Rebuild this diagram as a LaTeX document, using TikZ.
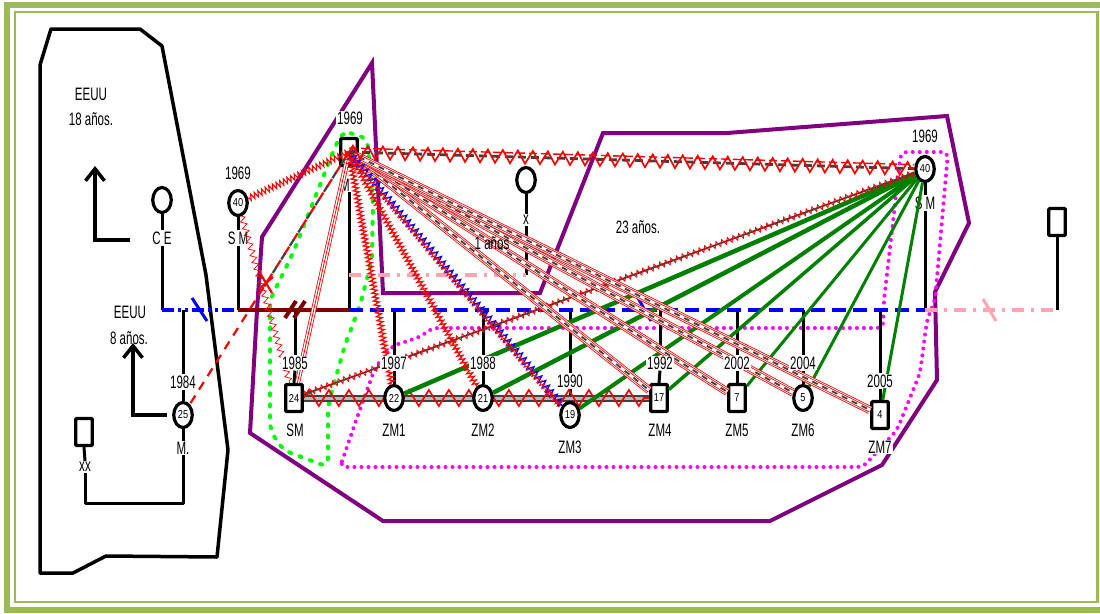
\documentclass[tikz,border=0pt]{standalone}
\usepackage{fontspec}
\newfontfamily\nar{Liberation Sans}[FakeStretch=0.64]
\newfontfamily\narn{Liberation Sans}[FakeStretch=0.8]
\usetikzlibrary{shapes.geometric,decorations.pathmorphing,arrows.meta,calc}
\pgfdeclarelayer{bg}
\pgfdeclarelayer{rel}
\pgfdeclarelayer{lab}
\pgfsetlayers{bg,main,rel,lab}
\definecolor{frameg}{HTML}{9BBB59}
\definecolor{purp}{HTML}{800080}
\definecolor{maroonc}{HTML}{800000}
\definecolor{pinkl}{HTML}{FFA3B5}
\definecolor{grn}{HTML}{008000}
\definecolor{limec}{HTML}{00FF00}
\definecolor{magc}{HTML}{FF00FF}
\definecolor{dgray}{HTML}{404040}
\tikzset{
  txt/.style={font=\nar\fontsize{18}{18}\selectfont, inner sep=1pt},
  yr/.style={txt, fill=white},
  nm/.style={txt, fill=white},
  num/.style={font=\narn\fontsize{11.5}{11.5}\selectfont},
  sq/.style={draw, line width=3.2pt, rectangle, rounded corners=1pt, minimum width=16.5pt, minimum height=27pt, fill=white, inner sep=0pt, num},
  ci/.style={draw, line width=3.2pt, ellipse, minimum width=18.5pt, minimum height=25pt, fill=white, inner sep=0pt, num},
  kin/.style={black, line width=3pt},
  arr/.style={black, line width=3.5pt, -{Straight Barb[length=12pt,width=19pt]}},
  zzfine/.style={red, line width=1.1pt, decorate, decoration={zigzag, amplitude=3pt, segment length=4pt}},
  tripl/.style={red, line width=0.8pt, double=white, double distance=3.6pt},
  bandr/.style={red, line width=0.8pt, double=white, double distance=6.5pt},
  bandr2/.style={red, line width=0.8pt, double=white, double distance=3.2pt},
  bandg/.style={dgray, line width=1.8pt, dash pattern=on 6pt off 5pt},
  grel/.style={grn, line width=3.5pt},
}
\begin{document}
\begin{tikzpicture}[x=1pt,y=-1pt]
\useasboundingbox (0,0) rectangle (1100,613);

% ---------- persons ----------
\node[ci] (CE)  at (162,200) {};
\node[ci] (SMl) at (238,203) {40};
\node[ci] (M25) at (183,415) {25};
\node[sq] (XX)  at (84,432) {};
\node[sq] (M)   at (349,152) {};
\node[ci] (X)   at (526,180) {};
\node[ci] (SMr) at (925,169) {40};
\node[sq] (R)   at (1057,222) {};
\node[sq] (SM)  at (294,398) {24};
\node[ci] (ZM1) at (394,398) {22};
\node[ci] (ZM2) at (483,398) {21};
\node[ci] (ZM3) at (570,415) {19};
\node[sq] (ZM4) at (659,398) {17};
\node[sq] (ZM5) at (737,398) {7};
\node[ci] (ZM6) at (803,398) {5};
\node[sq] (ZM7) at (880,415) {4};

% ---------- name labels ----------
\node[nm] (lCE)  at (162,238) {C E};
\node[nm] (lSMl) at (238,238) {S M};
\node[nm] (lM25) at (183,448) {M.};
\node[nm] (lXX)  at (85,467) {xx};
\node[nm] (lM)   at (345,185) {M};
\node[nm] (lX)   at (526,220) {x};
\node[nm] (lSMr) at (925,203) {S M};
\node[nm] (lSM)  at (295,430) {SM};
\node[nm] (lZM1) at (394,430) {ZM1};
\node[nm] (lZM2) at (483,430) {ZM2};
\node[nm] (lZM3) at (570,447) {ZM3};
\node[nm] (lZM4) at (660,430) {ZM4};
\node[nm] (lZM5) at (737,430) {ZM5};
\node[nm] (lZM6) at (803,430) {ZM6};
\node[nm] (lZM7) at (880,447) {ZM7};

% ---------- free texts ----------
\node[txt] (t1) at (91,94)  {EEUU};
\node[txt] (t2) at (91,119) {18 años.};
\node[txt] (t3) at (130,312) {EEUU};
\node[txt] (t4) at (129,338) {8 años.};
\node[txt] (t6) at (638,227) {23 años.};

% ---------- year labels ----------
\begin{pgfonlayer}{lab}
\node[txt] (t5) at (492,243) {1 años};
\node[yr] (ySMl) at (238,173) {1969};
\node[yr] (yM)   at (350,118) {1969};
\node[yr] (ySMr) at (925,136) {1969};
\node[yr] (yM25) at (183,382) {1984};
\node[yr] (ySM)  at (295,363) {1985};
\node[yr] (yZM1) at (394,363) {1987};
\node[yr] (yZM2) at (483,363) {1988};
\node[yr] (yZM3) at (570,381) {1990};
\node[yr] (yZM4) at (660,363) {1992};
\node[yr] (yZM5) at (737,363) {2002};
\node[yr] (yZM6) at (803,363) {2004};
\node[yr] (yZM7) at (880,381) {2005};
\end{pgfonlayer}

% ---------- coordinates ----------
\coordinate (bCE)  at (162,310);
\coordinate (bSMl) at (238,310);
\coordinate (jM25) at (183,310);
\coordinate (bM)   at (349,310);
\coordinate (bSMr) at (925,310);
\coordinate (bR)   at (1057,310);
\coordinate (xl)   at (526,275);
\coordinate (cutg) at (262,290);
\coordinate (cutx) at (266,283);
\coordinate (a1s) at (130,240);
\coordinate (a1c) at (95,240);
\coordinate (a1e) at (95,166);
\coordinate (a2s) at (167,415);
\coordinate (a2c) at (133,415);
\coordinate (a2e) at (133,343);
\coordinate (xxb) at (183,503);
\coordinate (xxc) at (85,503);

\begin{pgfonlayer}{bg}
% frame
\draw[frameg, line width=6pt] (7,5) rectangle (1106,609.5);
\draw[frameg, line width=2.8pt] (15,12) rectangle (1097.5,602);
% EEUU region
\draw[black, line width=3.5pt, line join=round] (40,65) -- (51,29) -- (140,29) -- (162,46) -- (206,275) -- (228,450) -- (217,557) -- (106,556) -- (73,573) -- (40,573) -- cycle;
% purple region
\draw[purp, line width=4pt] (372,63) -- (383,293) -- (540,293) -- (603,133) -- (727,133) -- (947,116) -- (969,223) -- (935,292) -- (937,380) -- (882,465) -- (770,521) -- (383,521) -- (250,433) -- (257,310) -- (262,237) -- cycle;
% green dotted loop
\draw[limec, line width=4pt, dash pattern=on 2pt off 9pt, line cap=round, rounded corners=8pt] (343,131) -- (367,138) -- (373,200) -- (372,260) -- (360,305) -- (345,345) -- (328,405) -- (328,467) -- (283,450) -- (270,430) -- (270,300) -- (293,253) -- (335,147) -- cycle;
% magenta dotted loop
\draw[magc, line width=4pt, dash pattern=on 0pt off 7pt, line cap=round, rounded corners=6pt] (340,467) -- (358,415) -- (375,368) -- (392,346) -- (420,337) -- (432,328) -- (883,328) -- (884,300) -- (901,152) -- (948,152) -- (935,300) -- (927,320) -- (920,373) -- (897,430) -- (863,467) -- cycle;
% arrows
\draw[arr] (a1s) -- (a1c) -- (a1e);
\draw[arr] (a2s) -- (a2c) -- (a2e);
% vertical lines of persons
\draw[kin] (CE.south) -- (lCE.north);
\draw[kin] (lCE.south) -- (bCE);
\draw[kin] (SMl.south) -- (lSMl.north);
\draw[kin] (lSMl.south) -- (bSMl);
\draw[kin] (M |- lM.south) -- (bM);
\draw[kin] (SMr.south) -- (lSMr.north);
\draw[kin] (lSMr.south) -- (bSMr);
\draw[kin] (R.south) -- (bR);
\draw[kin] (X.south) -- (lX.north);
\draw[kin] (lX.south) -- (xl);
\draw[kin] (XX.south) -- (lXX.north);
\draw[kin] (jM25) -- (yM25.north);
\draw[kin] (yM25.south) -- (M25.north);
\draw[kin] (M25.south) -- (lM25.north);
\draw[kin, line join=round] (lM25.south) -- (xxb) -- (xxc) -- (lXX.south);
\foreach \c in {SM,ZM1,ZM2,ZM3,ZM4,ZM5,ZM6,ZM7}{
  \draw[kin] (y\c.north |- bM) -- (y\c.north);
  \draw[kin] (y\c.south) -- (\c.north);
}
% couple lines
\draw[blue, line width=3.5pt, dash pattern=on 12pt off 4pt on 3pt off 4pt on 3pt off 4pt] (bCE) -- (bSMl);
\draw[blue, line width=3pt] (192,298) -- (207,321);
\draw[maroonc, line width=4pt] (bSMl) -- (bM);
\draw[maroonc, line width=4pt] (285,318) -- (296,301);
\draw[maroonc, line width=4pt] (294,318) -- (305,301);
\draw[blue, line width=3.5pt, dash pattern=on 14pt off 7pt] (bM) -- (bSMr);
\draw[blue, line width=3pt] (638,298) -- (651,321);
\draw[pinkl, line width=3.5pt, dash pattern=on 12pt off 7pt on 3pt off 7pt] (bSMr) -- (bR);
\draw[pinkl, line width=3pt] (983,299) -- (996,321);
\draw[pinkl, line width=3.5pt, dash pattern=on 12pt off 7pt on 3pt off 7pt] (M |- xl) -- (xl);
% sibling band
\draw[dgray, line width=2pt, double=gray!55, double distance=3pt] (SM.east) -- (ZM4.west);
\draw[red, line width=1.7pt, decorate, decoration={zigzag, amplitude=8pt, segment length=20pt}] (SM.east) -- (ZM4.west);
\end{pgfonlayer}

\begin{pgfonlayer}{rel}
% green relations from SM (right)
\foreach \c/\w in {ZM1/4.5pt,ZM2/4.5pt,ZM3/4pt,ZM4/3.5pt,ZM5/3pt,ZM6/3pt,ZM7/3pt}{
  \draw[grel, line width=\w] (SMr) -- (\c);
}
% SM (1985) -- SM (right)
\draw[dgray, line width=1.8pt] (SM) -- (SMr);
\draw[red, line width=0.9pt, decorate, decoration={zigzag, amplitude=3pt, segment length=6pt}] (SM) -- (SMr);
% SM (left) -- SM (1985)
\draw[red, line width=0.7pt, decorate, decoration={zigzag, amplitude=3pt, segment length=7pt}] (SMl) -- (SM);
% bands M -> ZM4..ZM7
\foreach \c in {ZM4,ZM5,ZM6,ZM7}{
  \draw[bandr] (M.center) -- (\c);
  \draw[bandr2] (M.center) -- (\c);
  \draw[bandg] (M.center) -- (\c);
}
% M -- SM (1985): triple line
\draw[tripl] (M.center) -- (SM);
\draw[red, line width=0.8pt] (M.center) -- (SM);
% M -- ZM1, ZM2
\draw[red, line width=0.6pt] (M.center) -- (ZM1);
\draw[zzfine] (M.center) -- (ZM1);
\draw[red, line width=0.6pt] (M.center) -- (ZM2);
\draw[zzfine] (M.center) -- (ZM2);
% M -- ZM3
\draw[blue, line width=1.3pt, decorate, decoration={zigzag, amplitude=3.5pt, segment length=6pt}] (M.center) -- (ZM3);
\draw[red, line width=0.9pt, decorate, decoration={zigzag, amplitude=2.5pt, segment length=4pt}, transform canvas={xshift=-2.5pt}] (M.center) -- (ZM3);
% M -- SM (left)
\draw[zzfine] (M.center) -- (SMl);
% M -- M. (25)
\draw[red, line width=2.2pt, dash pattern=on 9pt off 7pt] (M.center) -- (M25);
\draw[dgray, line width=2.2pt, dash pattern=on 7pt off 9pt, dash phase=8pt] (M.center) -- (cutg);
\draw[red, line width=2.2pt] ($(cutx)+(-6,-10)$) -- ($(cutx)+(6,10)$);
\draw[red, line width=2.2pt] ($(cutx)+(-7,6)$) -- ($(cutx)+(7,-6)$);
% M -- SM (right): top band
\draw[dgray, line width=2.8pt, dash pattern=on 8pt off 5pt] (M.center) -- (SMr);
\draw[red, line width=1.4pt, dash pattern=on 8pt off 4pt, transform canvas={yshift=4pt}] (M.center) -- (SMr);
\draw[red, line width=1.7pt, decorate, decoration={zigzag, amplitude=6.5pt, segment length=15pt}] (M.center) -- (SMr);
\end{pgfonlayer}
\end{tikzpicture}
\end{document}
